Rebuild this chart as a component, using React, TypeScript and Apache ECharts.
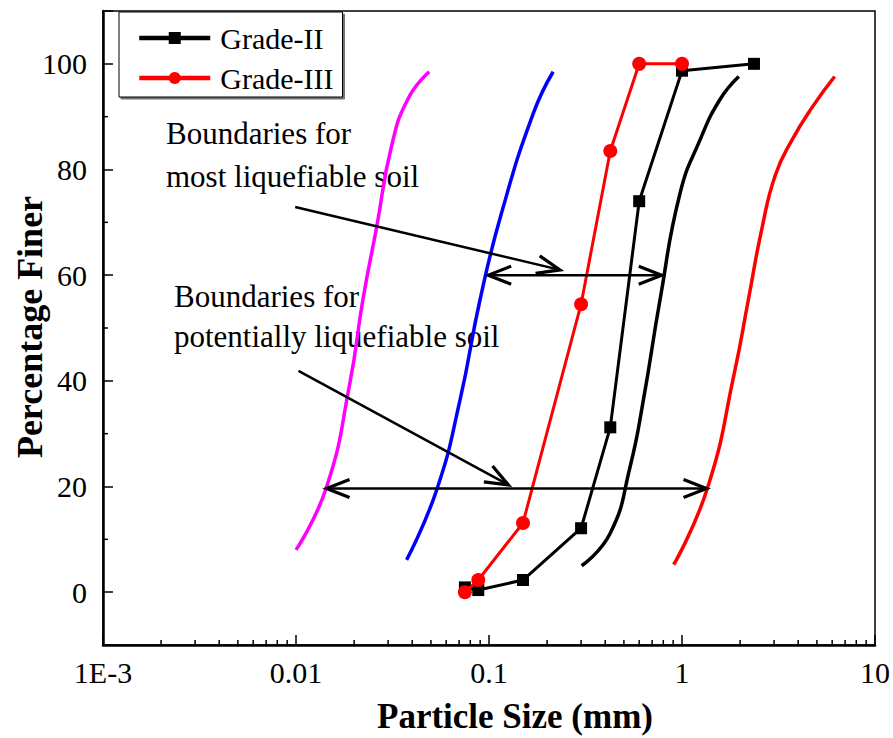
import React, { useEffect, useRef } from "react";
import * as echarts from "echarts";

// Measured grading curves
const grade2X = [0.075, 0.088, 0.15, 0.3, 0.425, 0.6, 1.0, 2.36];
const grade2Y = [0.9, 0.4, 2.3, 12.1, 31.2, 74, 98.7, 100];
const grade3X = [0.075, 0.088, 0.15, 0.3, 0.425, 0.6, 1.0];
const grade3Y = [0, 2.3, 13.1, 54.5, 83.5, 100, 100];

// Boundary curves
const magentaX = [0.01, 0.0144, 0.019, 0.0222, 0.0262, 0.0313, 0.0382, 0.049];
const magentaY = [8, 19.9, 39.5, 55.3, 69.2, 84.5, 93.5, 98.5];
const blueX = [0.0374, 0.0535, 0.0708, 0.0898, 0.116, 0.17, 0.215];
const blueY = [6.1, 19.3, 36.4, 55.3, 71.7, 90.7, 98.5];
const blackBX = [0.302, 0.424, 0.538, 0.631, 0.769, 0.977, 1.24, 1.57, 1.97];
const blackBY = [5, 11.1, 23.7, 36.4, 55.3, 75.5, 85.6, 93.2, 97.6];
const redBX = [0.906, 1.358, 1.875, 2.206, 2.594, 3.05, 3.73, 4.75, 6.18];
const redBY = [5.2, 19.8, 41.8, 55.3, 68.8, 79, 85.7, 91.9, 97.6];

// Arrows (data coordinates); both = 1 for double-headed
const arrowX1 = [0.0099, 0.0103, 0.099, 0.0144];
const arrowY1 = [72.9, 41.9, 60, 19.6];
const arrowX2 = [0.2333, 0.126, 0.785, 1.34];
const arrowY2 = [61.0, 20.3, 60, 19.6];
const arrowBoth = [0, 0, 1, 1];

// Axis ticks
const xMinorTicks = [
  0.002, 0.003, 0.004, 0.005, 0.006, 0.007, 0.008, 0.009,
  0.02, 0.03, 0.04, 0.05, 0.06, 0.07, 0.08, 0.09,
  0.2, 0.3, 0.4, 0.5, 0.6, 0.7, 0.8, 0.9,
  2, 3, 4, 5, 6, 7, 8, 9,
];
const yMinorTicks = [10, 30, 50, 70, 90];

const legendNames = ["Grade-II", "Grade-III"];
const annotation1 = ["Boundaries for", "most liquefiable soil"];
const annotation2 = ["Boundaries for", "potentially liquefiable soil"];
const xTitle = "Particle Size (mm)";
const yTitle = "Percentage Finer";

const FONT = "'Liberation Serif', 'Times New Roman', serif";
const zip = (a: number[], b: number[]) => a.map((v, i) => [v, b[i]]);

export default function App() {
  const ref = useRef<HTMLDivElement>(null);
  useEffect(() => {
    document.body.style.margin = "0";
    const chart = echarts.init(ref.current!, null, { renderer: "svg" });

    const arrowRender = (params: any, api: any) => {
      const p1 = api.coord([api.value(0), api.value(1)]);
      const p2 = api.coord([api.value(2), api.value(3)]);
      const both = api.value(4) === 1;
      const head = (tip: number[], from: number[]) => {
        const dx = tip[0] - from[0];
        const dy = tip[1] - from[1];
        const len = Math.hypot(dx, dy) || 1;
        const ux = dx / len;
        const uy = dy / len;
        const L = 23;
        const W = 9;
        return {
          type: "polyline",
          shape: {
            points: [
              [tip[0] - L * ux - W * uy, tip[1] - L * uy + W * ux],
              [tip[0], tip[1]],
              [tip[0] - L * ux + W * uy, tip[1] - L * uy - W * ux],
            ],
          },
          style: { stroke: "#000", lineWidth: 3.2, fill: "none", lineJoin: "miter" },
        };
      };
      const children: any[] = [
        {
          type: "line",
          shape: { x1: p1[0], y1: p1[1], x2: p2[0], y2: p2[1] },
          style: { stroke: "#000", lineWidth: 2.5 },
        },
        head(p2, p1),
      ];
      if (both) children.push(head(p1, p2));
      return { type: "group", children };
    };

    const boundary = (name: string, xs: number[], ys: number[], color: string) => ({
      name,
      type: "line",
      data: zip(xs, ys),
      smooth: 0.5,
      showSymbol: false,
      symbol: "none",
      lineStyle: { color, width: 3.5 },
      itemStyle: { color },
      z: 2,
    });

    const option: any = {
      animation: false,
      backgroundColor: "#fff",
      grid: {
        left: 103,
        top: 11,
        right: 18,
        bottom: 93,
        show: true,
        borderColor: "#000",
        borderWidth: 1.5,
        backgroundColor: "transparent",
      },
      legend: {
        data: legendNames,
        orient: "vertical",
        left: 119,
        top: 12,
        padding: [11, 9, 4, 18],
        itemGap: 10,
        itemWidth: 71,
        itemHeight: 15,
        borderColor: "#000",
        borderWidth: 1,
        backgroundColor: "#fff",
        shadowColor: "rgba(0,0,0,0.55)",
        shadowOffsetX: 2,
        shadowOffsetY: 2,
        shadowBlur: 0,
        lineStyle: { width: 4.5 },
        textStyle: {
          fontFamily: FONT,
          fontSize: 30,
          color: "#000",
          lineHeight: 30,
          padding: [0, 0, 0, 5],
        },
      },
      xAxis: {
        type: "log",
        logBase: 10,
        min: 0.001,
        max: 10,
        axisLine: { show: true, onZero: false, lineStyle: { color: "#000", width: 2.5 } },
        axisTick: { show: true, inside: true, length: 10, lineStyle: { color: "#000", width: 1.5 } },
        splitLine: { show: false },
        axisLabel: {
          margin: 12,
          fontFamily: FONT,
          fontSize: 30,
          color: "#000",
          formatter: (v: number) => {
            const e = Math.round(Math.log10(v));
            if (e === -3) return "1E-3";
            if (e === -2) return "0.01";
            if (e === -1) return "0.1";
            if (e === 0) return "1";
            if (e === 1) return "10";
            return "";
          },
        },
      },
      yAxis: {
        type: "value",
        min: -10,
        max: 110,
        splitNumber: 6,
        axisLine: { show: true, onZero: false, lineStyle: { color: "#000", width: 2.5 } },
        axisTick: { show: true, inside: true, length: 10, lineStyle: { color: "#000", width: 1.5 } },
        splitLine: { show: false },
        axisLabel: {
          margin: 16,
          fontFamily: FONT,
          fontSize: 30,
          color: "#000",
          formatter: (v: number) => (v < 0 || v > 100 ? "" : String(v)),
        },
      },
      graphic: [
        {
          type: "text",
          left: 166,
          top: 118,
          style: { text: annotation1[0], font: `31px ${FONT}`, fill: "#000" },
        },
        {
          type: "text",
          left: 166,
          top: 161,
          style: { text: annotation1[1], font: `31px ${FONT}`, fill: "#000" },
        },
        {
          type: "text",
          left: 174,
          top: 281,
          style: { text: annotation2[0], font: `31px ${FONT}`, fill: "#000" },
        },
        {
          type: "text",
          left: 174,
          top: 321,
          style: { text: annotation2[1], font: `31px ${FONT}`, fill: "#000" },
        },
        {
          type: "text",
          x: 515,
          y: 716,
          style: {
            text: xTitle,
            font: `bold 35px ${FONT}`,
            fill: "#000",
            textAlign: "center",
            textVerticalAlign: "middle",
            align: "center",
            verticalAlign: "middle",
          },
        },
        {
          type: "text",
          x: 30,
          y: 327,
          rotation: Math.PI / 2,
          style: {
            text: yTitle,
            font: `bold 36px ${FONT}`,
            fill: "#000",
            textAlign: "center",
            textVerticalAlign: "middle",
            align: "center",
            verticalAlign: "middle",
          },
        },
      ],
      series: [
        boundary("magenta", magentaX, magentaY, "#FF00FF"),
        boundary("blue", blueX, blueY, "#0000FF"),
        boundary("blackBoundary", blackBX, blackBY, "#000000"),
        boundary("redBoundary", redBX, redBY, "#FF0000"),
        {
          name: "Grade-II",
          type: "line",
          data: zip(grade2X, grade2Y),
          symbol: "rect",
          symbolSize: 12,
          lineStyle: { color: "#000", width: 3 },
          itemStyle: { color: "#000" },
          z: 3,
        },
        {
          name: "Grade-III",
          type: "line",
          data: zip(grade3X, grade3Y),
          symbol: "circle",
          symbolSize: 14,
          lineStyle: { color: "#FF0000", width: 3 },
          itemStyle: { color: "#FF0000" },
          z: 4,
        },
        {
          name: "arrows",
          type: "custom",
          renderItem: arrowRender,
          data: arrowX1.map((v, i) => [v, arrowY1[i], arrowX2[i], arrowY2[i], arrowBoth[i]]),
          encode: { x: [0, 2], y: [1, 3] },
          silent: true,
          z: 5,
        },
        {
          name: "xMinor",
          type: "custom",
          renderItem: (params: any, api: any) => {
            const p = api.coord([api.value(0), api.value(1)]);
            return {
              type: "line",
              shape: { x1: p[0], y1: p[1], x2: p[0], y2: p[1] - 5 },
              style: { stroke: "#000", lineWidth: 1.5 },
            };
          },
          data: xMinorTicks.map((v) => [v, -10]),
          encode: { x: 0, y: 1 },
          silent: true,
          clip: false,
          z: 6,
        },
        {
          name: "yMinor",
          type: "custom",
          renderItem: (params: any, api: any) => {
            const p = api.coord([api.value(0), api.value(1)]);
            return {
              type: "line",
              shape: { x1: p[0], y1: p[1], x2: p[0] + 5, y2: p[1] },
              style: { stroke: "#000", lineWidth: 1.5 },
            };
          },
          data: yMinorTicks.map((v) => [0.001, v]),
          encode: { x: 0, y: 1 },
          silent: true,
          clip: false,
          z: 6,
        },
      ],
    };
    chart.setOption(option);
    return () => chart.dispose();
  }, []);
  return (
    <div
      ref={ref}
      style={{ position: "absolute", left: 0, top: 0, width: 893, height: 738 }}
    />
  );
}
